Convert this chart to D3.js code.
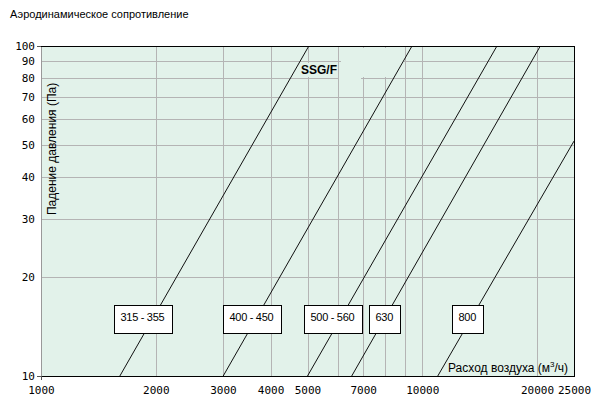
<!DOCTYPE html>
<html><head><meta charset="utf-8">
<script src="https://cdn.jsdelivr.net/npm/d3@7"></script>
<style>body{margin:0;background:#fff}svg{display:block}</style>
</head><body>
<svg id="c" width="602" height="404"></svg>
<script>
// ---- data ----
const seriesNames = ["315 - 355", "400 - 450", "500 - 560", "630", "800"];
// each line: two [airflow m3/h, pressure Pa] points
const seriesPoints = [
  [[1610, 10], [5040, 100]],
  [[3005, 10], [9400, 100]],
  [[5000, 10], [15700, 100]],
  [[6530, 10], [20400, 100]],
  [[10980, 10], [25000, 51.5]]
];
// label box anchor (airflow at the box's left edge, pressure at its top)
const labelFlow = [1554, 3001, 4895, 7251, 11964];
const labelPressure = 16.4;
const xTickValues = [1000, 2000, 3000, 4000, 5000, 7000, 10000, 20000, 25000];
const xGridValues = [2000, 3000, 4000, 5000, 6000, 7000, 8000, 9000, 10000, 20000];
const yTickValues = [10, 20, 30, 40, 50, 60, 70, 80, 90, 100];
const yGridValues = [20, 30, 40, 50, 60, 70, 80, 90];
const title = "Аэродинамическое сопротивление";
const yTitle = "Падение давления (Па)";
const chartName = "SSG/F";

// ---- layout ----
const L = 41, R = 574, T = 46, B = 376;
const bg = "#e2f2ea", gridC = "#b4b4b4";
const svg = d3.select("#c");
const x = d3.scaleLog().domain([1000, 25000]).range([L, R]);
const y = d3.scaleLog().domain([10, 100]).range([B, T]);

svg.append("text").attr("x", 10).attr("y", 18)
  .style("font", "11px 'Liberation Sans', Arial, sans-serif").attr("fill", "#000").text(title);

svg.append("rect").attr("x", L).attr("y", T).attr("width", R - L).attr("height", B - T).attr("fill", bg);

// grid
const gx = svg.append("g").attr("transform", `translate(0,${B})`)
  .call(d3.axisBottom(x).tickValues(xGridValues).tickSize(-(B - T)).tickFormat(""));
gx.select(".domain").remove();
gx.selectAll("line").attr("stroke", gridC).attr("shape-rendering", "crispEdges");
const gy = svg.append("g").attr("transform", `translate(${L},0)`)
  .call(d3.axisLeft(y).tickValues(yGridValues).tickSize(-(R - L)).tickFormat(""));
gy.select(".domain").remove();
gy.selectAll("line").attr("stroke", gridC).attr("shape-rendering", "crispEdges");

// masks behind the chart name
svg.append("rect").attr("x", 341).attr("y", 48).attr("width", 63).attr("height", 29).attr("fill", bg);
svg.append("rect").attr("x", 300).attr("y", 63).attr("width", 36).attr("height", 14).attr("fill", bg);
svg.append("rect").attr("x", 339).attr("y", 76).attr("width", 22).attr("height", 3).attr("fill", bg);

// lines
svg.append("clipPath").attr("id", "clip").append("rect")
  .attr("x", L).attr("y", T).attr("width", R - L).attr("height", B - T);
const line = d3.line().x(d => x(d[0])).y(d => y(d[1]));
svg.append("g").attr("clip-path", "url(#clip)").selectAll("path").data(seriesPoints).join("path")
  .attr("d", line).attr("fill", "none").attr("stroke", "#111").attr("stroke-width", 1);

// axes frame
svg.append("line").attr("x1", L + 0.5).attr("x2", L + 0.5).attr("y1", T).attr("y2", B).attr("stroke", "#999");
svg.append("line").attr("x1", L).attr("x2", R).attr("y1", B + 0.5).attr("y2", B + 0.5).attr("stroke", "#000");
svg.append("line").attr("x1", L).attr("x2", R).attr("y1", T + 0.5).attr("y2", T + 0.5).attr("stroke", "#000");
svg.append("line").attr("x1", R + 0.5).attr("x2", R + 0.5).attr("y1", T).attr("y2", B + 1).attr("stroke", "#000");
svg.append("line").attr("x1", L - 4).attr("x2", L).attr("y1", T + 0.5).attr("y2", T + 0.5).attr("stroke", "#555");
svg.append("line").attr("x1", L - 4).attr("x2", L).attr("y1", B + 0.5).attr("y2", B + 0.5).attr("stroke", "#555");
svg.append("line").attr("x1", L + 0.5).attr("x2", L + 0.5).attr("y1", B).attr("y2", B + 4).attr("stroke", "#555");

// tick labels
const tickFont = "11px 'DejaVu Sans Mono', 'Liberation Mono', monospace";
const ax = svg.append("g").attr("transform", `translate(0,${B})`)
  .call(d3.axisBottom(x).tickValues(xTickValues).tickSize(0).tickPadding(10).tickFormat(d3.format("d")));
ax.select(".domain").remove();
ax.selectAll("text").style("font", tickFont).attr("fill", "#000");
const ay = svg.append("g").attr("transform", `translate(${L},0)`)
  .call(d3.axisLeft(y).tickValues(yTickValues).tickSize(0).tickPadding(6).tickFormat(d3.format("d")));
ay.select(".domain").remove();
ay.selectAll("text").style("font", tickFont).attr("fill", "#000");

// axis titles
svg.append("text").attr("transform", `translate(56,215) rotate(-90)`)
  .style("font", "12px 'Liberation Sans', Arial, sans-serif").attr("fill", "#000").text(yTitle);
const xt = svg.append("text").attr("x", 448).attr("y", 372)
  .style("font", "12px 'Liberation Sans', Arial, sans-serif").attr("fill", "#000");
xt.append("tspan").text("Расход воздуха (м");
xt.append("tspan").attr("dy", -5).style("font-size", "8px").text("3");
xt.append("tspan").attr("dy", 5).text("/ч)");

// chart name
svg.append("text").attr("x", 301).attr("y", 74)
  .style("font", "bold 12px 'Liberation Sans', Arial, sans-serif").attr("fill", "#000").text(chartName);

// label boxes
const lb = svg.append("g").selectAll("g").data(seriesNames).join("g")
  .attr("transform", (d, i) => `translate(${Math.round(x(labelFlow[i])) + 0.5},${Math.round(y(labelPressure)) + 0.5})`);
lb.append("text").attr("x", 6).attr("y", 15)
  .style("font", "11px 'Liberation Sans', Arial, sans-serif").attr("letter-spacing", "-0.3px")
  .attr("fill", "#000").text(d => d)
  .each(function () { this.__w = this.getComputedTextLength(); });
lb.insert("rect", "text").attr("width", function () {
    return Math.max(31, Math.round(this.parentNode.querySelector("text").__w + 14));
  })
  .attr("height", 28).attr("fill", "#fff").attr("stroke", "#000");
</script>
</body></html>
